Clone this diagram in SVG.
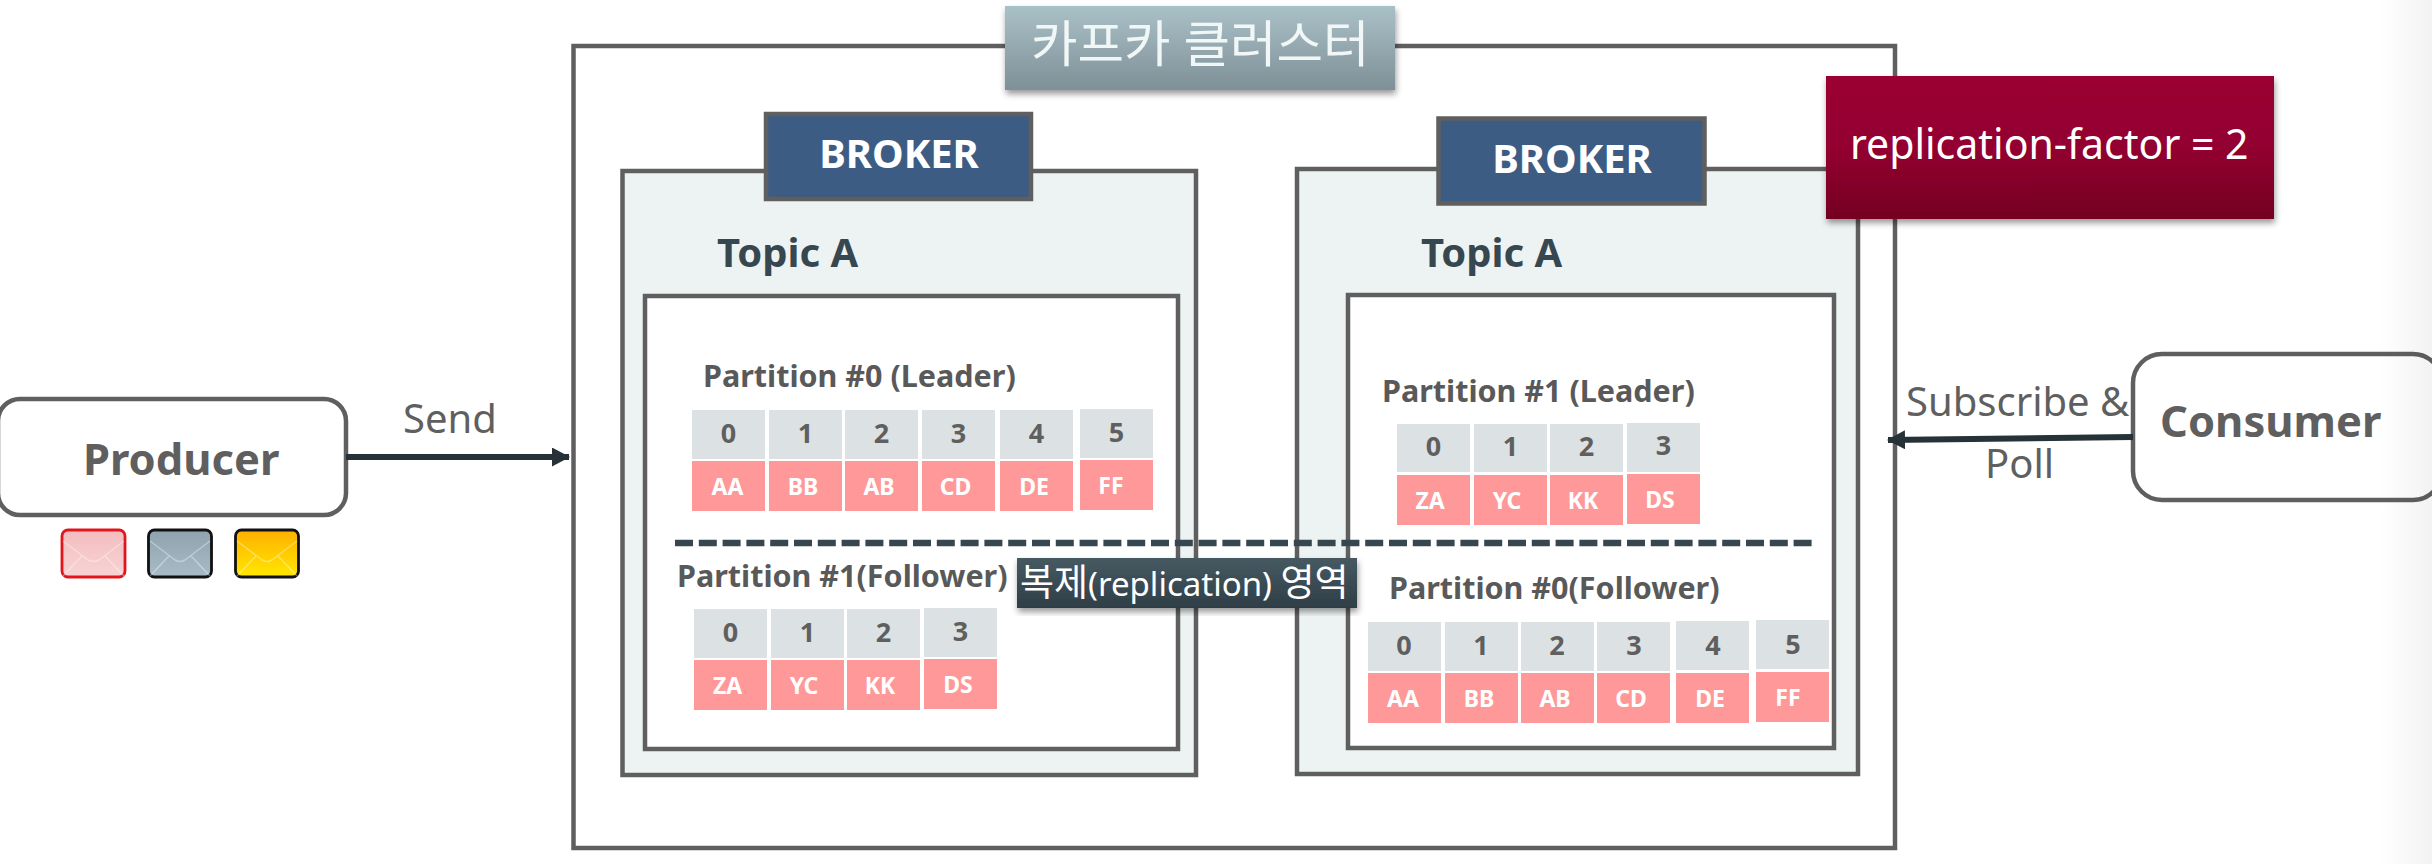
<svg xmlns="http://www.w3.org/2000/svg" width="2432" height="864" viewBox="0 0 2432 864">
<style>
text{font-family:"Noto Sans","Noto Sans CJK KR",sans-serif}
.box{stroke:#5f5f5f;stroke-width:4.5}
.broker{fill:#edf3f3}
.inner{fill:#fff}
.brk{fill:#3d5c84}
.brkT{fill:#fff;font-weight:700;font-size:40px;text-anchor:middle}
.topic{fill:#37474f;font-weight:700;font-size:40px}
.part{fill:#595959;font-weight:700;font-size:30.500px}
.k{fill:#dce1e3}
.v{fill:#ff9999}
.kT{fill:#5f5f5f;font-weight:700;font-size:27px;text-anchor:middle}
.vT{fill:#fff;font-weight:700;font-size:23px;text-anchor:middle}
.lbl{fill:#5f5f5f;font-size:40px}
.head{fill:#5f5f5f;font-weight:700;font-size:43.500px}
.conn{stroke:#263238;stroke-width:6;fill:none}
.env{stroke-width:2.8}
.flap{fill:none;stroke:#fff;stroke-opacity:.35;stroke-width:1.5}
</style>
<defs>
<linearGradient id="gT" x1="0" y1="0" x2="0" y2="1"><stop offset="0" stop-color="#aac0c7"/><stop offset="1" stop-color="#7f9097"/></linearGradient>
<linearGradient id="gR" x1="0" y1="0" x2="0" y2="1"><stop offset="0" stop-color="#9b0033"/><stop offset=".5" stop-color="#930030"/><stop offset="1" stop-color="#740022"/></linearGradient>
<linearGradient id="gD" x1="0" y1="0" x2="0" y2="1"><stop offset="0" stop-color="#465a62"/><stop offset="1" stop-color="#2f3e46"/></linearGradient>
<linearGradient id="eR" x1="0" y1="0" x2="0" y2="1"><stop offset="0" stop-color="#f3bcbe"/><stop offset="1" stop-color="#f8d4d5"/></linearGradient>
<linearGradient id="eG" x1="0" y1="0" x2="0" y2="1"><stop offset="0" stop-color="#8fa3ae"/><stop offset="1" stop-color="#a8bcc8"/></linearGradient>
<linearGradient id="eY" x1="0" y1="0" x2="0" y2="1"><stop offset="0" stop-color="#ffb000"/><stop offset="1" stop-color="#ffe800"/></linearGradient>
<linearGradient id="gE" x1="0" y1="0" x2="1" y2="0"><stop offset="0" stop-color="#000" stop-opacity="0"/><stop offset="1" stop-color="#000" stop-opacity=".05"/></linearGradient>
<filter id="sh" x="-5%" y="-10%" width="110%" height="125%"><feDropShadow dx="1" dy="4" stdDeviation="3" flood-color="#000" flood-opacity=".4"/></filter>
<marker id="ah" markerUnits="userSpaceOnUse" markerWidth="18" markerHeight="20" refX="17" refY="9.5" orient="auto"><path d="M0 0L18 9.5L0 19Z" fill="#263238"/></marker>
</defs>
<rect width="2432" height="864" fill="#fff"/>

<g id="cluster">
<rect class="box" x="573.5" y="46" width="1321.5" height="802" fill="#fff"/>
<rect x="1005" y="6" width="390" height="84" fill="url(#gT)" filter="url(#sh)"/>
<text x="1031" y="62" font-size="50.500" fill="#f1f6f6">카프카 클러스터</text>
</g>

<g id="broker-left">
<rect class="box broker" x="622.5" y="171" width="573.5" height="604"/>
<rect class="box brk" x="766" y="114" width="265" height="85"/>
<text class="brkT" x="899" y="168">BROKER</text>
<text class="topic" x="717" y="267">Topic A</text>
<rect class="box inner" x="645" y="296" width="533" height="453"/>
</g>

<g id="broker-right">
<rect class="box broker" x="1297" y="169" width="561" height="605"/>
<rect class="box brk" x="1438.500" y="118.500" width="266" height="85"/>
<text class="brkT" x="1572" y="173">BROKER</text>
<text class="topic" x="1421" y="267">Topic A</text>
<rect class="box inner" x="1348" y="295" width="486" height="453"/>
</g>

<g id="partition-0-leader">
<text class="part" x="703" y="387">Partition #0 (Leader)</text>
<rect class="k" x="692" y="410" width="73" height="49"/><rect class="v" x="692" y="461" width="73" height="50"/>
<rect class="k" x="769" y="410" width="73" height="49"/><rect class="v" x="769" y="461" width="73" height="50"/>
<rect class="k" x="845" y="410" width="73" height="49"/><rect class="v" x="845" y="461" width="73" height="50"/>
<rect class="k" x="922" y="410" width="73" height="49"/><rect class="v" x="922" y="461" width="73" height="50"/>
<rect class="k" x="1000" y="410" width="73" height="49"/><rect class="v" x="1000" y="461" width="73" height="50"/>
<rect class="k" x="1080" y="409" width="73" height="49"/><rect class="v" x="1080" y="460" width="73" height="50"/>
<text class="kT" x="728.500" y="443">0</text><text class="kT" x="805.500" y="443">1</text><text class="kT" x="881.500" y="443">2</text><text class="kT" x="958.500" y="443">3</text><text class="kT" x="1036.500" y="443">4</text><text class="kT" x="1116.500" y="442">5</text>
<text class="vT" x="727.500" y="495">AA</text><text class="vT" x="803" y="495">BB</text><text class="vT" x="879" y="495">AB</text><text class="vT" x="955.500" y="495">CD</text><text class="vT" x="1034" y="495">DE</text><text class="vT" x="1111" y="494">FF</text>
</g>

<g id="partition-1-follower">
<text class="part" x="677" y="587">Partition #1(Follower)</text>
<rect class="k" x="694" y="609" width="73" height="49"/><rect class="v" x="694" y="660" width="73" height="50"/>
<rect class="k" x="771" y="609" width="73" height="49"/><rect class="v" x="771" y="660" width="73" height="50"/>
<rect class="k" x="847" y="609" width="73" height="49"/><rect class="v" x="847" y="660" width="73" height="50"/>
<rect class="k" x="924" y="608" width="73" height="49"/><rect class="v" x="924" y="659" width="73" height="50"/>
<text class="kT" x="730.500" y="642">0</text><text class="kT" x="807.500" y="642">1</text><text class="kT" x="883.500" y="642">2</text><text class="kT" x="960.500" y="641">3</text>
<text class="vT" x="727.500" y="694">ZA</text><text class="vT" x="804" y="694">YC</text><text class="vT" x="880" y="694">KK</text><text class="vT" x="958" y="693">DS</text>
</g>

<g id="partition-1-leader">
<text class="part" x="1382" y="402">Partition #1 (Leader)</text>
<rect class="k" x="1397" y="424" width="73" height="48"/><rect class="v" x="1397" y="475" width="73" height="50"/>
<rect class="k" x="1474" y="424" width="73" height="48"/><rect class="v" x="1474" y="475" width="73" height="50"/>
<rect class="k" x="1550" y="424" width="73" height="48"/><rect class="v" x="1550" y="475" width="73" height="50"/>
<rect class="k" x="1627" y="423" width="73" height="49"/><rect class="v" x="1627" y="474" width="73" height="50"/>
<text class="kT" x="1433.500" y="456">0</text><text class="kT" x="1510.500" y="456">1</text><text class="kT" x="1586.500" y="456">2</text><text class="kT" x="1663.500" y="455">3</text>
<text class="vT" x="1430" y="509">ZA</text><text class="vT" x="1507" y="509">YC</text><text class="vT" x="1583" y="509">KK</text><text class="vT" x="1660" y="508">DS</text>
</g>

<g id="partition-0-follower">
<text class="part" x="1389" y="599">Partition #0(Follower)</text>
<rect class="k" x="1368" y="622" width="73" height="49"/><rect class="v" x="1368" y="673" width="73" height="50"/>
<rect class="k" x="1445" y="622" width="73" height="49"/><rect class="v" x="1445" y="673" width="73" height="50"/>
<rect class="k" x="1521" y="622" width="73" height="49"/><rect class="v" x="1521" y="673" width="73" height="50"/>
<rect class="k" x="1597" y="622" width="73" height="49"/><rect class="v" x="1597" y="673" width="73" height="50"/>
<rect class="k" x="1676" y="621" width="73" height="49"/><rect class="v" x="1676" y="673" width="73" height="50"/>
<rect class="k" x="1756" y="620" width="73" height="49"/><rect class="v" x="1756" y="672" width="73" height="50"/>
<text class="kT" x="1404" y="655">0</text><text class="kT" x="1481" y="655">1</text><text class="kT" x="1557" y="655">2</text><text class="kT" x="1634" y="655">3</text><text class="kT" x="1713" y="655">4</text><text class="kT" x="1793" y="654">5</text>
<text class="vT" x="1403" y="707">AA</text><text class="vT" x="1479" y="707">BB</text><text class="vT" x="1555" y="707">AB</text><text class="vT" x="1631" y="707">CD</text><text class="vT" x="1710" y="707">DE</text><text class="vT" x="1788" y="706">FF</text>
</g>

<g id="replication-divider">
<line x1="675" y1="543" x2="1814" y2="543" stroke="#37474f" stroke-width="6.500" stroke-dasharray="18 5.800"/>
</g>

<g id="replication-label">
<rect x="1017" y="558" width="340" height="50" fill="url(#gD)" filter="url(#sh)"/>
<text x="1020" y="596" font-size="33" fill="#fff"><tspan font-size="37">복제</tspan>(replication) <tspan font-size="37">영역</tspan></text>
</g>

<g id="replication-factor">
<rect x="1826" y="76" width="448" height="143" fill="url(#gR)" filter="url(#sh)"/>
<text x="1850" y="159" font-size="41" fill="#fff">replication-factor = 2</text>
</g>

<g id="producer">
<rect class="box" x="-2" y="399" width="348" height="116" rx="22" fill="#fff"/>
<text class="head" x="83" y="475">Producer</text>
</g>

<g id="messages">
<g id="msg-red"><rect class="env" x="62" y="530" width="63" height="47" rx="6" fill="url(#eR)" stroke="#e0161c"/><path class="flap" d="M63 541L88 560Q93.500 563 99 560L124 541M63 576L82 556M124 576L105 556"/></g>
<g id="msg-grey"><rect class="env" x="148.500" y="530" width="63" height="47" rx="6" fill="url(#eG)" stroke="#111"/><path class="flap" d="M150 541L175 560Q180 563 185 560L210 541M150 576L169 556M210 576L191 556"/></g>
<g id="msg-yellow"><rect class="env" x="235.500" y="530" width="63" height="47" rx="6" fill="url(#eY)" stroke="#111"/><path class="flap" d="M237 541L262 560Q267 563 272 560L297 541M237 576L256 556M297 576L278 556"/></g>
</g>

<g id="consumer">
<rect class="box" x="2133" y="354" width="309" height="146" rx="29" fill="#fff"/>
<text class="head" x="2160" y="437">Consumer</text>
</g>

<g id="connectors">
<line class="conn" x1="346" y1="457" x2="569" y2="457" marker-end="url(#ah)"/>
<line class="conn" x1="2133" y1="437" x2="1888" y2="440" marker-end="url(#ah)"/>
</g>
<g id="connector-labels">
<text class="lbl" x="403" y="433">Send</text>
<text class="lbl" x="1906" y="416">Subscribe &amp;</text>
<text class="lbl" x="1985" y="478">Poll</text>
</g>
<rect x="2380" y="0" width="52" height="864" fill="url(#gE)"/>
</svg>
